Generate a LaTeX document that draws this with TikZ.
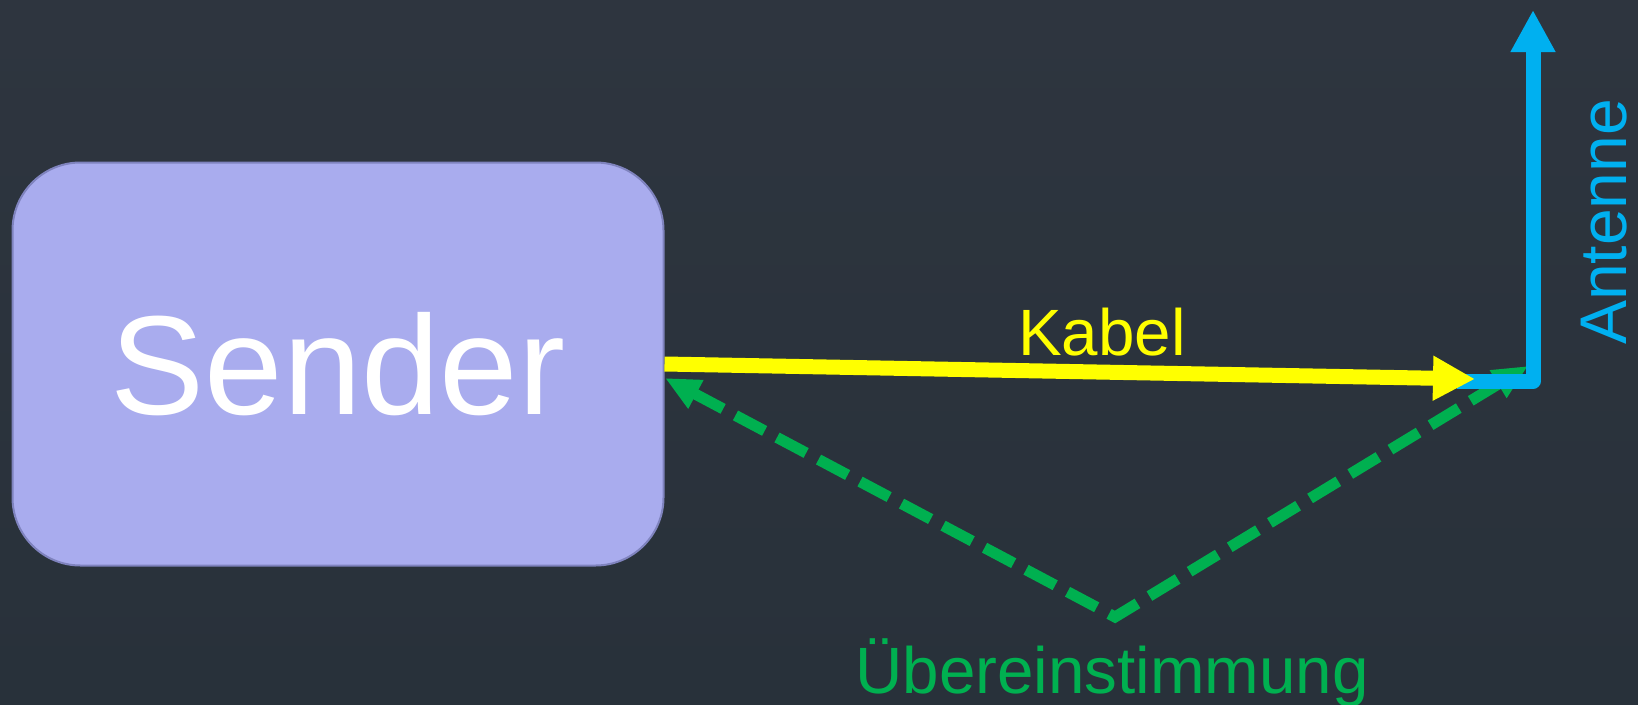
\documentclass[tikz,border=0pt]{standalone}
\usepackage{fontspec}
\setmainfont{Liberation Sans}
\usepackage{xcolor}
\usepackage{tikz}
\usetikzlibrary{arrows.meta,positioning,calc}
\definecolor{bgtop}{HTML}{2E353F}
\definecolor{bgbot}{HTML}{28313A}
\definecolor{boxfill}{HTML}{A9ACEE}
\definecolor{boxline}{HTML}{7F83BE}
\definecolor{kabelgelb}{HTML}{FFFF00}
\definecolor{antblau}{HTML}{00B0F0}
\definecolor{gruen}{HTML}{00B050}
\tikzstyle{block} = [draw=boxline, line width=2pt, rectangle, fill=boxfill,
    rounded corners=68pt, minimum width=651pt, minimum height=403pt,
    text=white, font=\fontsize{141}{148}\selectfont]
\tikzstyle{label} = [inner sep=0pt, anchor=base, font=\fontsize{65.5}{70}\selectfont]
\tikzstyle{coord} = [coordinate]
\tikzstyle{kabel} = [-{Triangle[length=42pt,width=42pt]}, line width=15pt, kabelgelb]
\tikzstyle{antenne} = [-{Triangle[length=42pt,width=42pt]}, line width=15pt, antblau, line join=round]
\tikzstyle{match} = [{Triangle[length=35pt,width=30pt]}-{Triangle[length=35pt,width=30pt]},
    line width=11pt, gruen, dash pattern=on 33pt off 14pt]

\begin{document}
\begin{tikzpicture}[x=1pt, y=-1pt]
    \shade[top color=bgtop, bottom color=bgbot] (0,0) rectangle (1638,704);
    \useasboundingbox (0,0) rectangle (1638,704);

    \node (sender) [block] at (338,364) {Sender};

    \node (kabelend) [coord] at (1475,379) {};
    \node (fuss) [coord] at (1457,381) {};
    \node (knick) [coord] at (1533,381) {};
    \node (spitze) [coord] at (1533,10) {};
    \node (links) [coord] at (665,378) {};
    \node (tief) [coord] at (1115,617) {};
    \node (rechts) [coord] at (1528,366) {};

    \draw [match] (links) -- (tief) -- (rechts);
    \draw [antenne] (fuss) -- (knick) -- (spitze);
    \draw [kabel] (sender.east) -- (kabelend);

    \node (kabeltext) [label, text=kabelgelb] at (1102,355) {Kabel};
    \node (antext) [label, text=antblau, rotate=90, font=\fontsize{66}{70}\selectfont] at (1626,222) {Antenne};
    \node (matchtext) [label, text=gruen] at (1112,693) {Übereinstimmung};
\end{tikzpicture}
\end{document}
